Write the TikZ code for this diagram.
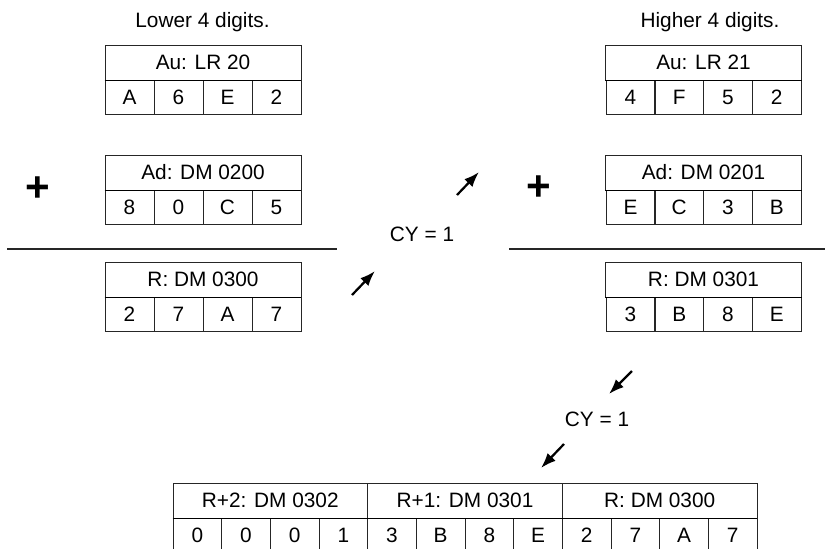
\documentclass[tikz,border=0pt]{standalone}
\usepackage{fontspec}
\setmainfont{Liberation Sans}
\usepackage{tikz}
\usetikzlibrary{arrows.meta}

\tikzset{
  reghead/.style={draw=black!85,line width=0.6pt,minimum width=4.9cm,minimum height=0.875cm,inner sep=0pt,font=\fontsize{14.8}{16}\selectfont},
  regcell/.style={draw=black!85,line width=0.6pt,minimum width=1.225cm,minimum height=0.85cm,inner sep=0pt,font=\fontsize{14.8}{16}\selectfont},
  lbl/.style={inner sep=0pt,font=\fontsize{14.8}{16}\selectfont},
  plussign/.style={inner sep=0pt,font=\fontsize{30}{32}\selectfont\bfseries},
  carry/.style={-{Latex[length=0.38cm,width=0.28cm]},line width=1.6pt},
}

\begin{document}
\begin{tikzpicture}[x=0.025cm,y=-0.025cm]
\useasboundingbox (0,0) rectangle (825,548);
\node[lbl] (lowlbl) at (202.5,22) {Lower 4 digits.};
\node[lbl] (highlbl) at (710,22) {Higher 4 digits.};
% lower 4 digits
\foreach \d [count=\i from 0] in {A,6,E,2}
  \node[regcell] (loAu\i) at (129.5+49*\i,97) {\d};
\node[reghead] (loAuH) at (203,62.5) {Au: LR 20};
\foreach \d [count=\i from 0] in {8,0,C,5}
  \node[regcell] (loAd\i) at (129.5+49*\i,207) {\d};
\node[reghead] (loAdH) at (203,172.5) {Ad: DM 0200};
\foreach \d [count=\i from 0] in {2,7,A,7}
  \node[regcell] (loR\i) at (129.5+49*\i,314) {\d};
\node[reghead] (loRH) at (203,279.5) {R: DM 0300};
\node[plussign] (loplus) at (38,189) {+};
\draw[line width=0.8pt,black!85] (7,249) -- (337,249);
% higher 4 digits
\foreach \d [count=\i from 0] in {4,F,5,2}
  \node[regcell] (hiAu\i) at (630.5+48.75*\i,97) {\d};
\node[reghead] (hiAuH) at (703.5,62.5) {Au: LR 21};
\foreach \d [count=\i from 0] in {E,C,3,B}
  \node[regcell] (hiAd\i) at (630.5+48.75*\i,207) {\d};
\node[reghead] (hiAdH) at (703.5,172.5) {Ad: DM 0201};
\foreach \d [count=\i from 0] in {3,B,8,E}
  \node[regcell] (hiR\i) at (630.5+48.75*\i,314) {\d};
\node[reghead] (hiRH) at (703.5,279.5) {R: DM 0301};
\node[plussign] (hiplus) at (539,188) {+};
\draw[line width=0.8pt,black!85] (509,249) -- (825,249);
% thicker middle rules
\foreach \h in {loAuH,loAdH,loRH,hiAuH,hiAdH,hiRH}
  \draw[line width=1.1pt] (\h.south west) -- (\h.south east);
% carries
\node[lbl] (cy1) at (422,234) {CY = 1};
\coordinate (c1a) at (352,295);
\coordinate (c1b) at (375,271);
\coordinate (c2a) at (457,195);
\coordinate (c2b) at (479,172);
\draw[carry] (c1a) -- (c1b);
\draw[carry] (c2a) -- (c2b);
\node[lbl] (cy2) at (597,419) {CY = 1};
\coordinate (c3a) at (632,371);
\coordinate (c3b) at (609,394);
\coordinate (c4a) at (564,444);
\coordinate (c4b) at (541,468);
\draw[carry] (c3a) -- (c3b);
\draw[carry] (c4a) -- (c4b);
% result
\foreach \d [count=\i from 0] in {0,0,0,1,3,B,8,E,2,7,A,7}
  \node[regcell,minimum width=1.2167cm] (res\i) at (197.3+48.67*\i,535) {\d};
\node[reghead,minimum width=4.867cm] (resH2) at (270.3,500.5) {R+2: DM 0302};
\node[reghead,minimum width=4.867cm] (resH1) at (465,500.5) {R+1: DM 0301};
\node[reghead,minimum width=4.867cm] (resH0) at (659.7,500.5) {R: DM 0300};
\draw[line width=1.1pt] (resH2.south west) -- (resH0.south east);
\end{tikzpicture}
\end{document}
